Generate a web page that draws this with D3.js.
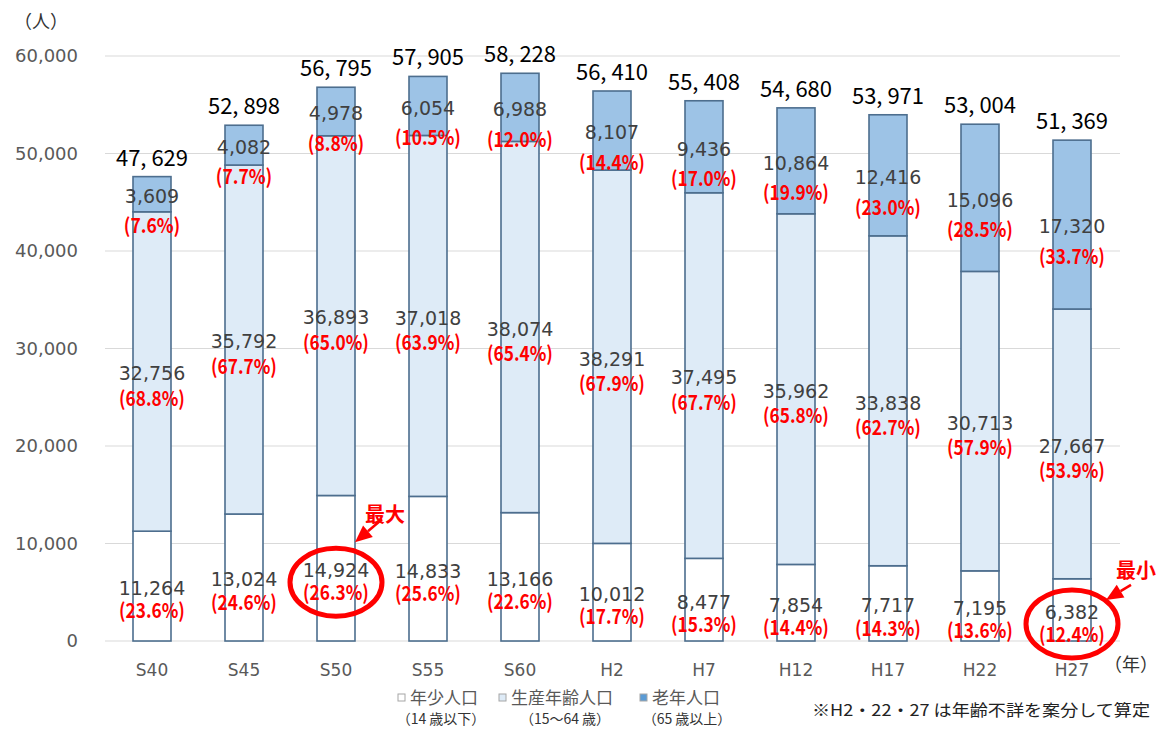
<!DOCTYPE html>
<html>
<head>
<meta charset="utf-8">
<script src="https://cdn.jsdelivr.net/npm/d3@7"></script>
<style>
  body { margin: 0; background: #fff; }
  svg { display: block; }
</style>
</head>
<body>
<div id="chart-area"></div>
<script>
// Population by age group (persons)
const categories = ['S40', 'S45', 'S50', 'S55', 'S60', 'H2', 'H7', 'H12', 'H17', 'H22', 'H27'];
const young = [11264, 13024, 14924, 14833, 13166, 10012, 8477, 7854, 7717, 7195, 6382];
const working = [32756, 35792, 36893, 37018, 38074, 38291, 37495, 35962, 33838, 30713, 27667];
const elderly = [3609, 4082, 4978, 6054, 6988, 8107, 9436, 10864, 12416, 15096, 17320];
const totals = [47629, 52898, 56795, 57905, 58228, 56410, 55408, 54680, 53971, 53004, 51369];

// Shares (%) as printed
const youngPct = ['23.6', '24.6', '26.3', '25.6', '22.6', '17.7', '15.3', '14.4', '14.3', '13.6', '12.4'];
const workingPct = ['68.8', '67.7', '65.0', '63.9', '65.4', '67.9', '67.7', '65.8', '62.7', '57.9', '53.9'];
const elderlyPct = ['7.6', '7.7', '8.8', '10.5', '12.0', '14.4', '17.0', '19.9', '23.0', '28.5', '33.7'];

const yTicks = [0, 10000, 20000, 30000, 40000, 50000, 60000];

const seriesNames = ['年少人口', '生産年齢人口', '老年人口'];
const seriesNotes = ['（14 歳以下）', '（15～64 歳）', '（65 歳以上）'];

function drawChart() {
    const width = 1159, height = 729;
    const colors = ['#ffffff', '#deebf7', '#9dc3e6'];
    const stroke = '#4d6e8e';
    const jp = '"Noto Sans CJK JP", sans-serif';

    const svg = d3.select('#chart-area').append('svg')
        .attr('width', width)
        .attr('height', height);

    const x = d3.scaleBand()
        .domain(categories)
        .range([106, 1118])
        .paddingInner(0.587)
        .paddingOuter(0.2935);

    const y = d3.scaleLinear()
        .domain([0, 60000])
        .range([641, 56]);

    // gridlines
    svg.append('g').selectAll('line')
        .data(yTicks)
        .join('line')
        .attr('x1', 105).attr('x2', 1120)
        .attr('y1', d => y(d)).attr('y2', d => y(d))
        .attr('stroke', '#d9d9d9')
        .attr('stroke-width', 1.2);

    // y axis labels
    svg.append('g').selectAll('text')
        .data(yTicks)
        .join('text')
        .attr('x', 78)
        .attr('y', d => y(d))
        .attr('dy', '0.36em')
        .attr('text-anchor', 'end')
        .style('font-family', '"DejaVu Sans", sans-serif')
        .style('font-size', '18px')
        .attr('fill', '#595959')
        .text(d3.format(','));

    svg.append('text')
        .attr('x', 41).attr('y', 22).attr('dy', '0.36em')
        .attr('text-anchor', 'middle')
        .style('font-family', jp).style('font-size', '18px')
        .attr('fill', '#333')
        .text('（人）');

    // x axis labels
    svg.append('g').selectAll('text')
        .data(categories)
        .join('text')
        .attr('x', d => x(d) + x.bandwidth() / 2)
        .attr('y', 670)
        .attr('dy', '0.36em')
        .attr('text-anchor', 'middle')
        .style('font-family', '"DejaVu Sans", sans-serif')
        .style('font-size', '17px')
        .attr('fill', '#595959')
        .text(d => d);

    svg.append('text')
        .attr('x', 1131).attr('y', 665).attr('dy', '0.36em')
        .attr('text-anchor', 'middle')
        .style('font-family', jp).style('font-size', '18px')
        .attr('fill', '#333')
        .text('（年）');

    // stacked bars
    const rows = categories.map((c, i) => ({ cat: c, young: young[i], working: working[i], elderly: elderly[i] }));
    const keys = ['young', 'working', 'elderly'];
    const stacked = d3.stack().keys(keys)(rows);
    const pcts = [youngPct, workingPct, elderlyPct];

    svg.append('g').selectAll('g')
        .data(stacked)
        .join('g')
        .attr('fill', (d, i) => colors[i])
        .selectAll('rect')
        .data(d => d)
        .join('rect')
        .attr('x', d => x(d.data.cat))
        .attr('y', d => y(d[1]))
        .attr('width', x.bandwidth())
        .attr('height', d => y(d[0]) - y(d[1]))
        .attr('stroke', stroke)
        .attr('stroke-width', 1.6);

    // segment labels: value in gray, share in red
    const pctOffset = [23, 25, 30];
    stacked.forEach((layer, k) => {
        const g = svg.append('g');
        layer.forEach((d, i) => {
            const cx = x(d.data.cat) + x.bandwidth() / 2;
            const cy = (y(d[0]) + y(d[1])) / 2 + 2;
            g.append('text')
                .attr('x', cx).attr('y', cy).attr('dy', '0.36em')
                .attr('text-anchor', 'middle')
                .style('font-family', '"DejaVu Sans", sans-serif')
                .style('font-size', '19px')
                .attr('fill', '#404040')
                .text(d3.format(',')(d.data[keys[k]]));
            const label = '(' + pcts[k][i] + '%)';
            g.append('text')
                .attr('x', cx).attr('y', cy + pctOffset[k]).attr('dy', '0.36em')
                .attr('text-anchor', 'middle')
                .attr('textLength', label.length * 9.4)
                .attr('lengthAdjust', 'spacingAndGlyphs')
                .style('font-family', jp)
                .style('font-size', '20px')
                .style('font-weight', 'bold')
                .attr('fill', '#ff0000')
                .text(label);
        });
    });

    // totals
    svg.append('g').selectAll('text')
        .data(totals)
        .join('text')
        .attr('x', (d, i) => x(categories[i]) + x.bandwidth() / 2)
        .attr('y', d => y(d) - 19)
        .attr('dy', '0.36em')
        .attr('text-anchor', 'middle')
        .style('font-family', jp)
        .style('font-size', '22px')
        .attr('fill', '#000')
        .text(d => d3.format(',')(d).replace(',', ', '));

    // annotations: max / min of young population
    // text, arrow start and arrow tip are given relative to the ellipse centre
    function mark(i, label, txt, start, tip) {
        const cx = x(categories[i]) + x.bandwidth() / 2;
        const cy = (y(0) + y(young[i])) / 2 + 14;
        svg.append('ellipse')
            .attr('cx', cx).attr('cy', cy)
            .attr('rx', 46).attr('ry', 34)
            .attr('fill', 'none')
            .attr('stroke', '#ff0000')
            .attr('stroke-width', 5);
        svg.append('text')
            .attr('x', cx + txt[0]).attr('y', cy + txt[1]).attr('dy', '0.36em')
            .attr('text-anchor', 'middle')
            .style('font-family', jp).style('font-size', '20px')
            .style('font-weight', 'bold')
            .attr('fill', '#ff0000')
            .text(label);
        const x0 = cx + start[0], y0 = cy + start[1];
        const x1 = cx + tip[0], y1 = cy + tip[1];
        const ang = Math.atan2(y1 - y0, x1 - x0);
        const L = 17, W = 7.5;
        const bx = x1 - L * Math.cos(ang), by = y1 - L * Math.sin(ang);
        svg.append('line')
            .attr('x1', x0).attr('y1', y0).attr('x2', bx).attr('y2', by)
            .attr('stroke', '#ff0000').attr('stroke-width', 2.5);
        svg.append('path')
            .attr('d', `M${x1},${y1} L${bx + W * Math.sin(ang)},${by - W * Math.cos(ang)} L${bx - W * Math.sin(ang)},${by + W * Math.cos(ang)} Z`)
            .attr('fill', '#ff0000');
    }
    mark(categories.indexOf('S50'), '最大', [49, -67], [46, -63], [19, -40]);
    mark(categories.indexOf('H27'), '最小', [64, -53], [59, -39], [34, -24]);

    // legend
    const legX = [398, 499, 640];
    const noteX = [441, 565, 687];
    const legColors = ['#ffffff', '#deebf7', '#5b9bd5'];
    seriesNames.forEach((name, i) => {
        svg.append('rect')
            .attr('x', legX[i]).attr('y', 694)
            .attr('width', 7).attr('height', 7)
            .attr('fill', legColors[i])
            .attr('stroke', '#a6a6a6').attr('stroke-width', 1);
        svg.append('text')
            .attr('x', legX[i] + 12).attr('y', 698).attr('dy', '0.36em')
            .style('font-family', jp).style('font-size', '17px')
            .attr('fill', '#595959')
            .text(name);
        svg.append('text')
            .attr('x', noteX[i]).attr('y', 719).attr('dy', '0.36em')
            .attr('text-anchor', 'middle')
            .style('font-family', jp).style('font-size', '14px')
            .attr('fill', '#333')
            .text(seriesNotes[i]);
    });

    svg.append('text')
        .attr('x', 812).attr('y', 710).attr('dy', '0.36em')
        .attr('textLength', 338).attr('lengthAdjust', 'spacingAndGlyphs')
        .style('font-family', jp).style('font-size', '16px')
        .attr('fill', '#222')
        .text('※H2・22・27 は年齢不詳を案分して算定');
}

drawChart();
</script>
</body>
</html>
